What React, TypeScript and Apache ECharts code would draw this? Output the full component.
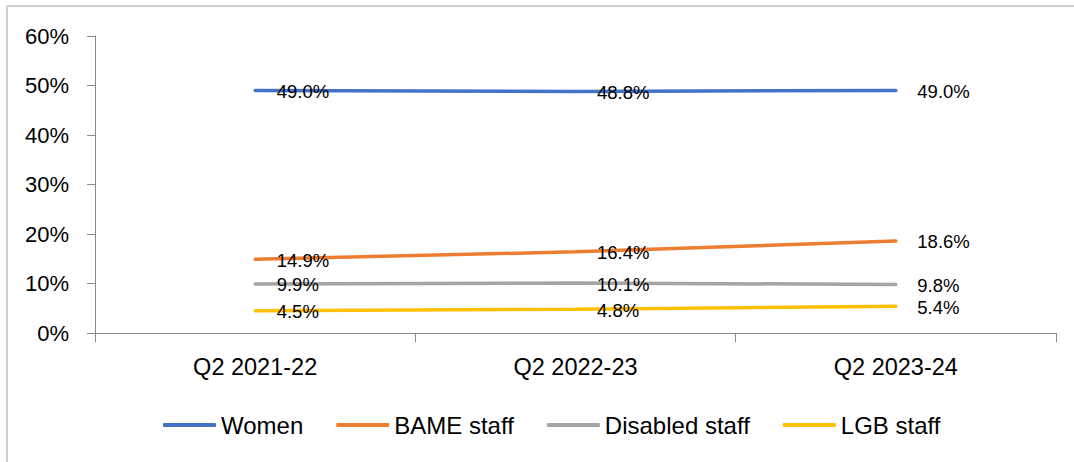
import React, { useEffect, useRef } from "react";
import * as echarts from "echarts";

const categories = ["Q2 2021-22", "Q2 2022-23", "Q2 2023-24"];
const women = [49.0, 48.8, 49.0];
const bame = [14.9, 16.4, 18.6];
const disabled = [9.9, 10.1, 9.8];
const lgb = [4.5, 4.8, 5.4];
const seriesNames = ["Women", "BAME staff", "Disabled staff", "LGB staff"];
const colors = ["#4472C4", "#ED7D31", "#A5A5A5", "#FFC000"];

const FONT = "'Liberation Sans', Arial, sans-serif";

export default function App() {
  const ref = useRef<HTMLDivElement>(null);
  useEffect(() => {
    if (!ref.current) return;
    const chart = echarts.init(ref.current, undefined, { renderer: "svg" });
    const mk = (name: string, data: number[], color: string) => ({
      name,
      type: "line",
      data,
      symbol: "circle",
      symbolSize: 1,
      itemStyle: { color: "rgba(0,0,0,0)" },
      lineStyle: { color, width: 3.5, cap: "round" },
      label: {
        show: true,
        position: "right",
        distance: 21,
        offset: [0, 1],
        formatter: (p: any) => p.value.toFixed(1) + "%",
        fontFamily: FONT,
        fontSize: 18.5,
        color: "#000",
      },
      emphasis: { disabled: true },
    });
    chart.setOption({
      animation: false,
      color: colors,
      graphic: [
        {
          type: "rect",
          shape: { x: 7, y: 6, width: 1200, height: 600 },
          style: { fill: "none", stroke: "#d0d0d0", lineWidth: 2 },
          silent: true,
        },
      ],
      grid: { left: 95, right: 18, top: 36, bottom: 129 },
      legend: {
        left: 158,
        top: 408,
        itemWidth: 53,
        itemHeight: 4,
        itemGap: 33,
        textStyle: { fontFamily: FONT, fontSize: 24, color: "#000" },
        data: seriesNames.map((n, i) => ({
          name: n,
          icon: "roundRect",
          itemStyle: { color: colors[i], opacity: 1 },
        })),
      },
      xAxis: {
        type: "category",
        data: categories,
        boundaryGap: true,
        axisLine: { lineStyle: { color: "#898989", width: 1 } },
        axisTick: { show: true, length: 9, inside: false, lineStyle: { color: "#898989" } },
        axisLabel: { fontFamily: FONT, fontSize: 23.5, color: "#000", margin: 22 },
        splitLine: { show: false },
      },
      yAxis: {
        type: "value",
        min: 0,
        max: 60,
        interval: 10,
        axisLine: { show: true, lineStyle: { color: "#898989", width: 1 } },
        axisTick: { show: true, length: 8, lineStyle: { color: "#898989" } },
        axisLabel: {
          fontFamily: FONT,
          fontSize: 22,
          color: "#000",
          margin: 26,
          formatter: (v: number) => v + "%",
        },
        splitLine: { show: false },
      },
      series: [
        mk(seriesNames[0], women, colors[0]),
        mk(seriesNames[1], bame, colors[1]),
        mk(seriesNames[2], disabled, colors[2]),
        mk(seriesNames[3], lgb, colors[3]),
      ],
    });
    return () => chart.dispose();
  }, []);
  return <div ref={ref} style={{ width: 1074, height: 462, position: "absolute", left: 0, top: 0 }} />;
}
